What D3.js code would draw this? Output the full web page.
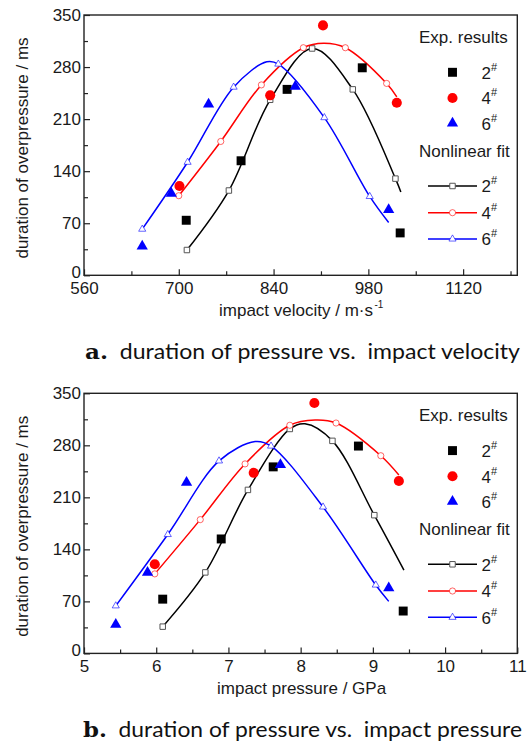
<!DOCTYPE html>
<html>
<head>
<meta charset="utf-8">
<script src="https://cdn.jsdelivr.net/npm/d3@7"></script>
<style>
  html, body { margin: 0; padding: 0; background: #fff; }
  svg { display: block; }
</style>
</head>
<body>
<svg id="chart" width="528" height="744"></svg>
<script>
// y axis (both panels)
const durTicks = [0, 70, 140, 210, 280, 350];
const durMinor = [35, 105, 175, 245, 315];
// panel a: impact velocity
const velTicks = [560, 700, 840, 980, 1120];
const velMinor = [630, 770, 910, 1050, 1190];
// panel b: impact pressure
const presTicks = [5, 6, 7, 8, 9, 10, 11];
const presMinor = [5.5, 6.5, 7.5, 8.5, 9.5, 10.5];

const seriesNames = ["2", "4", "6"];
const seriesColors = ["#000000", "#ff0000", "#0000ff"];

// experimental results [x, duration ms]
const velExp2 = [[711, 74], [792, 154], [860, 250], [971, 279], [1027, 57]];
const velExp4 = [[701, 120], [835, 242], [913, 336], [1022, 232]];
const velExp6 = [[646, 39], [689, 110], [744, 230], [872, 254], [1010, 88]];
const presExp2 = [[6.09, 73], [6.90, 154], [7.62, 251], [8.80, 279], [9.42, 57]];
const presExp4 = [[5.98, 120], [7.35, 243], [8.19, 337], [9.36, 232]];
const presExp6 = [[5.44, 39], [5.88, 109], [6.42, 230], [7.72, 254], [9.22, 88]];

// nonlinear fit: open markers, plus extra points (peak, end)
const velFit2Mk = [[712, 34], [774, 114], [835, 236], [897, 305], [957, 250], [1020, 130]];
const velFit2Ex = [[1028, 112]];
const velFit4Mk = [[700, 107], [762, 180], [822, 256], [884, 306], [946, 306], [1007, 258]];
const velFit4Ex = [[914, 312], [1022, 240]];
const velFit6Mk = [[646, 62], [713, 152], [781, 253], [847, 284], [915, 212], [982, 106]];
const velFit6Ex = [[830, 287], [1010, 71]];

const presFit2Mk = [[6.09, 36], [6.68, 109], [7.27, 220], [7.85, 302], [8.44, 286], [9.02, 186]];
const presFit2Ex = [[8.06, 309], [9.43, 112]];
const presFit4Mk = [[5.98, 107], [6.61, 180], [7.23, 255], [7.85, 307], [8.49, 310], [9.11, 266]];
const presFit4Ex = [[8.2, 314], [9.36, 240]];
const presFit6Mk = [[5.44, 64], [6.16, 160], [6.87, 259], [7.59, 279], [8.31, 197], [9.04, 92]];
const presFit6Ex = [[7.37, 285], [9.22, 70]];

const svg = d3.select("#chart");
const FONT = "'Liberation Sans', Arial, sans-serif";
const INK = "#1a1a1a";
const shapes = [d3.symbolSquare, d3.symbolCircle, d3.symbolTriangle];
const expSize = [80, 80, 55];
const fitSize = [30, 30, 22];

function panel(cfg) {
  const g = svg.append("g");
  const x = d3.scaleLinear().domain(cfg.xDomain).range([84, 517.3]);
  const y = d3.scaleLinear().domain([0, 350]).range([cfg.bottom, cfg.top]);
  const [x0, x1] = x.range();

  // ticks, pointing inward
  const gx = g.append("g").attr("transform", `translate(0,${cfg.bottom})`);
  gx.call(d3.axisBottom(x).tickValues(cfg.xTicks).tickSize(-6).tickPadding(7).tickFormat(d3.format("d")));
  gx.append("g").call(d3.axisBottom(x).tickValues(cfg.xMinor).tickSize(-4).tickFormat(""));
  const gy = g.append("g").attr("transform", `translate(${x0},0)`);
  gy.call(d3.axisLeft(y).tickValues(durTicks).tickSize(-6).tickPadding(3));
  gy.append("g").call(d3.axisLeft(y).tickValues(durMinor).tickSize(-4).tickFormat(""));
  g.selectAll(".domain").remove();
  g.selectAll(".tick line").attr("stroke", "#222").attr("stroke-width", 1.2);
  g.selectAll(".tick text").attr("font-family", FONT).attr("font-size", 17).attr("fill", INK);
  // the "0" on y sits just above the first x label, as in the source figure
  gy.selectAll(".tick text").filter((d) => d === 0).attr("dy", "0.1em");

  g.append("rect").attr("x", x0).attr("y", cfg.top).attr("width", x1 - x0).attr("height", cfg.bottom - cfg.top)
    .attr("fill", "none").attr("stroke", "#222").attr("stroke-width", 1.4);

  // fit curves
  const line = d3.line().x((d) => x(d[0])).y((d) => y(d[1])).curve(d3.curveCatmullRom.alpha(0.5));
  cfg.fits.forEach((f, i) => {
    const pts = f.mk.concat(f.ex).sort((a, b) => a[0] - b[0]);
    g.append("path").attr("d", line(pts)).attr("fill", "none")
      .attr("stroke", seriesColors[i]).attr("stroke-width", 1.5);
    g.append("g").selectAll("path").data(f.mk).join("path")
      .attr("transform", (d) => `translate(${x(d[0])},${y(d[1])})`)
      .attr("d", d3.symbol(shapes[i], fitSize[i])())
      .attr("fill", "#fff").attr("stroke", i === 0 ? "#555" : seriesColors[i]).attr("stroke-opacity", i === 0 ? 1 : 0.6).attr("stroke-width", 1);
  });

  // experimental points
  cfg.exps.forEach((e, i) => {
    g.append("g").selectAll("path").data(e).join("path")
      .attr("transform", (d) => `translate(${x(d[0])},${y(d[1])})`)
      .attr("d", d3.symbol(shapes[i], expSize[i])())
      .attr("fill", seriesColors[i]);
  });

  // legend
  const lg = g.append("g").attr("font-family", FONT).attr("fill", INK);
  const t = cfg.top;
  lg.append("text").attr("x", 419).attr("y", t + 27.5).attr("font-size", 17).text("Exp. results");
  lg.append("text").attr("x", 419).attr("y", t + 142).attr("font-size", 17).text("Nonlinear fit");
  const expY = [57.3, 83, 108.3];
  const fitY = [171, 197.7, 224];
  seriesNames.forEach((n, i) => {
    lg.append("path").attr("transform", `translate(452.5,${t + expY[i]})`)
      .attr("d", d3.symbol(shapes[i], expSize[i])()).attr("fill", seriesColors[i]);
    const tx = lg.append("text").attr("x", 481.5).attr("y", t + expY[i] + 6.3).attr("font-size", 17);
    tx.append("tspan").text(n);
    tx.append("tspan").attr("font-size", 11).attr("dy", -8).text("#");

    lg.append("line").attr("x1", 428).attr("x2", 477).attr("y1", t + fitY[i]).attr("y2", t + fitY[i])
      .attr("stroke", seriesColors[i]).attr("stroke-width", 1.5);
    lg.append("path").attr("transform", `translate(452.5,${t + fitY[i]})`)
      .attr("d", d3.symbol(shapes[i], fitSize[i])())
      .attr("fill", "#fff").attr("stroke", i === 0 ? "#555" : seriesColors[i]).attr("stroke-opacity", i === 0 ? 1 : 0.6);
    const tf = lg.append("text").attr("x", 481.5).attr("y", t + fitY[i] + 6.3).attr("font-size", 17);
    tf.append("tspan").text(n);
    tf.append("tspan").attr("font-size", 11).attr("dy", -8).text("#");
  });

  // axis titles
  g.append("text").attr("transform", `translate(28,${t + 133}) rotate(-90)`)
    .attr("text-anchor", "middle").attr("font-family", FONT).attr("font-size", 17).attr("fill", INK)
    .text("duration of overpressure / ms");
  const xl = g.append("text").attr("x", cfg.xLabelX).attr("y", cfg.bottom + 41)
    .attr("font-family", FONT).attr("font-size", 17).attr("fill", INK);
  xl.append("tspan").text(cfg.xLabel);
  if (cfg.xSup) xl.append("tspan").attr("font-size", 10).attr("dx", 1.5).attr("dy", -8).text(cfg.xSup);

  // caption
  const cap = svg.append("text").attr("x", cfg.capX).attr("y", cfg.capY)
    .attr("font-family", "Lato, 'Open Sans', sans-serif").attr("font-size", 21).attr("fill", "#111")
    .style("white-space", "pre")
    .attr("textLength", cfg.capW).attr("lengthAdjust", "spacingAndGlyphs");
  cap.append("tspan").attr("font-weight", "bold").attr("font-family", "'DejaVu Serif', serif").text(cfg.capTag);
  cap.append("tspan").text("  " + cfg.caption);
}

panel({
  top: 15, bottom: 275.3, xDomain: [560, 1200], xTicks: velTicks, xMinor: velMinor,
  fits: [{ mk: velFit2Mk, ex: velFit2Ex }, { mk: velFit4Mk, ex: velFit4Ex }, { mk: velFit6Mk, ex: velFit6Ex }],
  exps: [velExp2, velExp4, velExp6],
  xLabel: "impact velocity / m·s", xSup: "-1", xLabelX: 219,
  capTag: "a.", caption: "duration of pressure vs.  impact velocity", capX: 85, capY: 359, capW: 435
});
panel({
  top: 393.3, bottom: 653.4, xDomain: [5, 11], xTicks: presTicks, xMinor: presMinor,
  fits: [{ mk: presFit2Mk, ex: presFit2Ex }, { mk: presFit4Mk, ex: presFit4Ex }, { mk: presFit6Mk, ex: presFit6Ex }],
  exps: [presExp2, presExp4, presExp6],
  xLabel: "impact pressure / GPa", xSup: null, xLabelX: 217,
  capTag: "b.", caption: "duration of pressure vs.  impact pressure", capX: 83, capY: 737, capW: 439
});
</script>
</body>
</html>
